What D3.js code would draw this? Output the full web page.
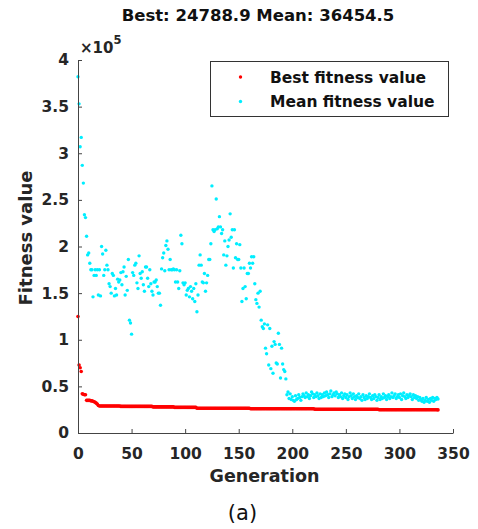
<!DOCTYPE html>
<html>
<head>
<meta charset="utf-8">
<script src="https://cdn.jsdelivr.net/npm/d3@7"></script>
<style>
  body { margin: 0; background: #fff; }
  text { font-family: "DejaVu Sans", sans-serif; }
</style>
</head>
<body>
<div id="chart"></div>
<script>
// chart text
const titleText = "Best: 24788.9 Mean: 36454.5";
const xLabel = "Generation";
const yLabel = "Fitness value";
const caption = "(a)";
const seriesNames = ["Best fitness value", "Mean fitness value"];

// ticks (y values in thousands)
const xTicks = [0, 50, 100, 150, 200, 250, 300, 350];
const yTicks = [0, 50, 100, 150, 200, 250, 300, 350, 400];
const yTickLabels = ["0", "0.5", "1", "1.5", "2", "2.5", "3", "3.5", "4"];

// fitness per generation (index = generation), in thousands
const bestFit = [
  125, 73, 70, 66, 42, 41.5, 41, 41, 35, 35,
  35, 35, 34.5, 34.5, 34, 33.5, 33, 32, 31, 29.5,
  29, 29, 29, 29, 29, 29, 29, 29, 29, 29,
  29, 29, 29, 29, 29, 29, 29, 29, 29, 29,
  28.5, 28.5, 28.5, 28.5, 28.5, 28.5, 28.5, 28.5, 28.5, 28.5,
  28.5, 28.5, 28.5, 28.5, 28.5, 28.5, 28.5, 28.5, 28.5, 28.5,
  28.5, 28.5, 28.5, 28.5, 28.5, 28.5, 28.5, 28.5, 28.5, 28.5,
  28, 28, 28, 28, 28, 28, 28, 28, 28, 28,
  28, 28, 28, 28, 28, 28, 28, 28, 28, 28,
  27.5, 27.5, 27.5, 27.5, 27.5, 27.5, 27.5, 27.5, 27.5, 27.5,
  27.5, 27.5, 27.5, 27.5, 27.5, 27.5, 27.5, 27.5, 27.5, 27.5,
  27.5, 26.5, 26.5, 26.5, 26.5, 26.5, 26.5, 26.5, 26.5, 26.5,
  26.5, 26.5, 26.5, 26.5, 26.5, 26.5, 26.5, 26.5, 26.5, 26.5,
  26.5, 26.5, 26.5, 26.5, 26.5, 26.5, 26.5, 26.5, 26.5, 26.5,
  26.5, 26.5, 26.5, 26.5, 26.5, 26.5, 26.5, 26.5, 26.5, 26.5,
  26.5, 26.5, 26.5, 26.5, 26.5, 26.5, 26.5, 26.5, 26.5, 26.5,
  26.5, 26, 26, 26, 26, 26, 26, 26, 26, 26,
  26, 26, 26, 26, 26, 26, 26, 26, 26, 26,
  26, 26, 26, 26, 26, 26, 26, 26, 26, 26,
  26, 26, 26, 26, 26, 26, 26, 26, 26, 26,
  26, 26, 26, 26, 26, 26, 26, 26, 26, 26,
  26, 26, 26, 26, 26, 26, 26, 26, 26, 26,
  26, 25.5, 25.5, 25.5, 25.5, 25.5, 25.5, 25.5, 25.5, 25.5,
  25.5, 25.5, 25.5, 25.5, 25.5, 25.5, 25.5, 25.5, 25.5, 25.5,
  25.5, 25.5, 25.5, 25.5, 25.5, 25.5, 25.5, 25.5, 25.5, 25.5,
  25.5, 25.5, 25.5, 25.5, 25.5, 25.5, 25.5, 25.5, 25.5, 25.5,
  25.5, 25.5, 25.5, 25.5, 25.5, 25.5, 25.5, 25.5, 25.5, 25.5,
  25.5, 25.5, 25.5, 25.5, 25.5, 25.5, 25.5, 25.5, 25.5, 25.5,
  25.5, 25, 25, 25, 25, 25, 25, 25, 25, 25,
  25, 25, 25, 25, 25, 25, 25, 25, 25, 25,
  25, 25, 25, 25, 25, 25, 25, 25, 25, 25,
  25, 25, 25, 25, 25, 25, 25, 25, 25, 25,
  25, 25, 25, 25, 25, 25, 25, 25, 25, 25,
  25, 25, 25, 25, 25, 25, 24.79
];

const meanFit = [
  382, 353, 307, 317, 287, 268, 234, 231, 211, 191,
  193, 182, 175, 175, 146, 169, 175, 169, 175, 148,
  175, 147, 200, 192, 169, 175, 196, 180, 175, 160,
  157, 150, 171, 169, 147, 155, 148, 165, 162, 164,
  172, 159, 173, 178, 148, 168, 153, 186, 121, 118,
  106, 172, 169, 180, 182, 161, 155, 190, 171, 166,
  173, 159, 152, 178, 178, 166, 157, 175, 160, 152,
  148, 162, 162, 164, 157, 150, 150, 137, 176, 188,
  193, 174, 201, 206, 197, 175, 186, 175, 175, 176,
  175, 162, 175, 162, 155, 174, 212, 203, 161, 159,
  161, 148, 153, 155, 146, 157, 152, 144, 155, 141,
  160, 130, 148, 180, 191, 180, 162, 161, 171, 152,
  161, 169, 186, 186, 203, 265, 218, 216, 218, 251,
  219, 221, 232, 221, 214, 218, 191, 206, 180, 190,
  200, 207, 235, 210, 218, 177, 218, 188, 203, 186,
  186, 202, 177, 141, 155, 177, 157, 144, 171, 171,
  182, 177, 189, 182, 189, 160, 143, 139, 150, 135,
  152, 121, 114, 112, 117, 91, 85, 116, 73, 112,
  69, 93, 64, 98, 95, 75, 74, 107, 95, 59,
  91, 74, 68, 66, 58, 41, 44, 37, 42, 36,
  39, 35, 34, 40, 36, 37, 41, 38, 35, 39,
  42, 40, 38, 43, 39, 41, 37, 40, 44, 42,
  38, 41, 39, 43, 40, 37, 42, 38, 41, 39,
  43, 40, 44, 41, 38, 42, 45, 39, 41, 43,
  40, 44, 42, 38, 41, 39, 43, 37, 40, 42,
  38, 41, 36, 39, 43, 40, 37, 42, 39, 36,
  40, 38, 42, 37, 39, 35, 41, 38, 36, 40,
  37, 39, 42, 38, 36, 40, 37, 41, 39, 35,
  38, 41, 36, 39, 37, 42, 38, 40, 36, 39,
  41, 37, 39, 43, 38, 40, 42, 37, 39, 41,
  38, 42, 36, 40, 43, 39, 37, 41, 38, 40,
  42, 39, 36, 41, 38, 40, 37, 39, 35, 38,
  36, 34, 37, 33, 35, 38, 34, 36, 33, 37,
  35, 38, 34, 37, 36, 38, 36.45
];

const seriesColors = ["#ff0000", "#00eeff"];
const seriesRadius = [1.8, 1.7];

const W = 478, H = 529;
const svg = d3.select("#chart").append("svg")
  .attr("width", W)
  .attr("height", H);

const x = d3.scaleLinear().domain([0, 350]).range([78, 453]);
const y = d3.scaleLinear().domain([0, 400]).range([433, 60]);

// points first, axes drawn on top
const series = [bestFit, meanFit];
series.forEach((vals, s) => {
  svg.append("g")
    .selectAll("circle")
    .data(vals)
    .join("circle")
      .attr("cx", (d, i) => x(i))
      .attr("cy", d => y(d))
      .attr("r", seriesRadius[s])
      .attr("fill", seriesColors[s]);
});

// X axis (ticks point inward)
const gx = svg.append("g")
  .attr("transform", `translate(0,${y(0)})`)
  .call(d3.axisBottom(x).tickValues(xTicks).tickSizeInner(-4).tickSizeOuter(0).tickPadding(15));

// Y axis
const gy = svg.append("g")
  .attr("transform", `translate(${x(0)},0)`)
  .call(d3.axisLeft(y).tickValues(yTicks).tickFormat((d, i) => yTickLabels[i])
    .tickSizeInner(-4).tickSizeOuter(0).tickPadding(9));

[gx, gy].forEach(g => {
  g.select(".domain").attr("stroke", "#444");
  g.selectAll(".tick line").attr("stroke", "#444");
  g.selectAll(".tick text")
    .attr("fill", "#262626")
    .style("font-size", "15.5px")
    .style("font-weight", "bold");
});

// exponent marker
const expo = svg.append("text")
  .attr("x", 80)
  .attr("y", 53)
  .attr("fill", "#262626")
  .style("font-weight", "bold");
expo.append("tspan").style("font-size", "15px").text("×10");
expo.append("tspan").attr("dy", -9).style("font-size", "11.5px").text("5");

// title
svg.append("text")
  .attr("x", 258)
  .attr("y", 21)
  .attr("text-anchor", "middle")
  .attr("fill", "#111")
  .style("font-size", "16.5px")
  .style("font-weight", "bold")
  .text(titleText);

// axis labels
svg.append("text")
  .attr("x", 264.5)
  .attr("y", 482)
  .attr("text-anchor", "middle")
  .attr("fill", "#262626")
  .style("font-size", "17.5px")
  .style("font-weight", "bold")
  .text(xLabel);

svg.append("text")
  .attr("transform", "translate(32,238) rotate(-90)")
  .attr("text-anchor", "middle")
  .attr("fill", "#262626")
  .style("font-size", "18px")
  .style("font-weight", "bold")
  .text(yLabel);

svg.append("text")
  .attr("x", 242.5)
  .attr("y", 520)
  .attr("text-anchor", "middle")
  .attr("fill", "#111")
  .style("font-size", "21px")
  .text(caption);

// legend
const legend = svg.append("g");
legend.append("rect")
  .attr("x", 210.5)
  .attr("y", 61.5)
  .attr("width", 238)
  .attr("height", 55)
  .attr("fill", "#fff")
  .attr("stroke", "#333")
  .attr("stroke-width", 1);

seriesNames.forEach((name, i) => {
  legend.append("circle")
    .attr("cx", 240.5)
    .attr("cy", 77 + i * 24.5)
    .attr("r", 1.7)
    .attr("fill", seriesColors[i]);
  legend.append("text")
    .attr("x", 270)
    .attr("y", 82.5 + i * 24.5)
    .attr("fill", "#111")
    .style("font-size", "15.5px")
    .style("font-weight", "bold")
    .text(name);
});
</script>
</body>
</html>
